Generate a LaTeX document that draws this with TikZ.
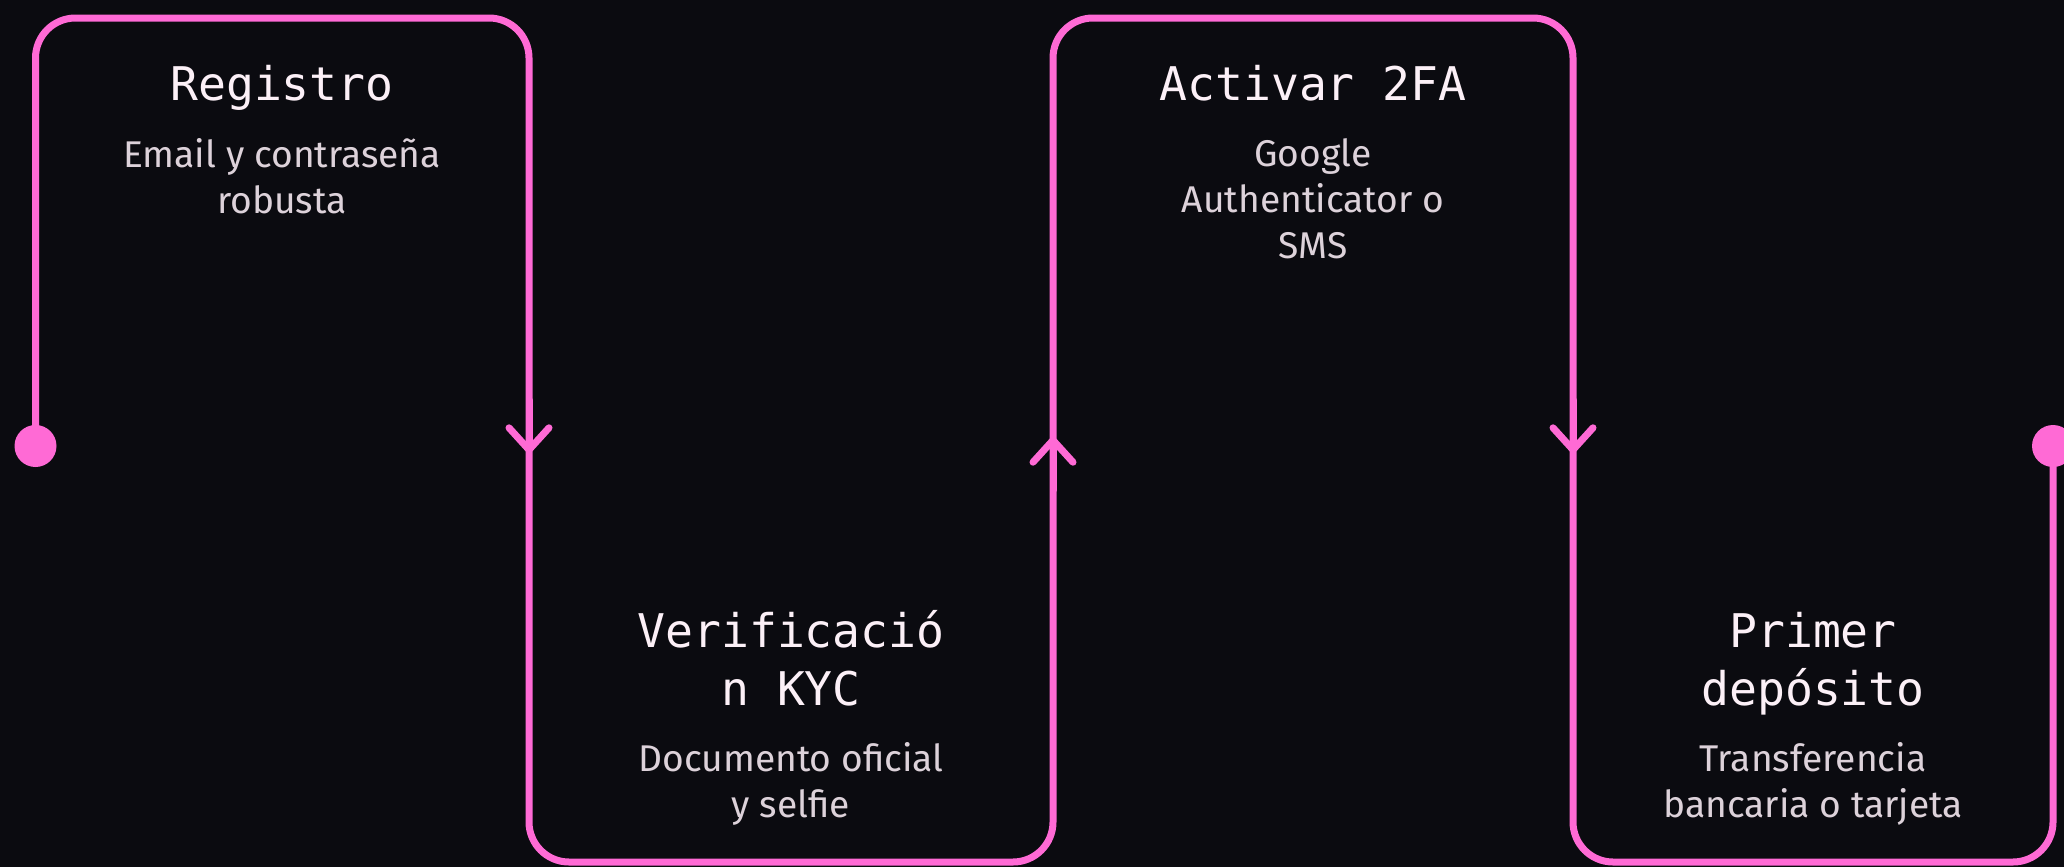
\documentclass[tikz,border=0pt]{standalone}
\usepackage{fontspec}
\setmainfont{Fira Sans}
\newfontfamily\monofont{DejaVu Sans Mono}
\usetikzlibrary{arrows.meta}
\definecolor{bg1}{RGB}{11, 11, 16}
\definecolor{pink1}{RGB}{255, 106, 213}
\definecolor{title1}{RGB}{252, 240, 247}
\definecolor{text1}{RGB}{221, 210, 218}

\begin{document}
\begin{tikzpicture}[x=0.5pt, y=-0.5pt, line width=3.5pt,
  flow/.style={draw=pink1, line cap=round, line join=round, rounded corners=20pt},
  chev/.style={pink1, line cap=round, -{Straight Barb[length=11pt, width=20pt, line cap=round]}},
  dot/.style={circle, fill=pink1, inner sep=0pt, minimum size=21pt},
  ttl/.style={anchor=base, align=center, text=title1, inner sep=0pt,
    font=\monofont\fontsize{23.2}{29}\selectfont},
  desc/.style={anchor=base, align=center, text=text1, inner sep=0pt,
    font=\fontsize{18.6}{23}\selectfont}]
  \fill[bg1] (0,0) rectangle (2064,867);
  \useasboundingbox (0,0) rectangle (2064,867);
  % ends of the line
  \node[dot] (start) at (35.5,446) {};
  \node[dot] (stop) at (2053,446) {};
  \coordinate (t0) at (35.5,18);
  \coordinate (t1) at (529,18);
  \coordinate (b1) at (529,862);
  \coordinate (b2) at (1053,862);
  \coordinate (t2) at (1053,18);
  \coordinate (t3) at (1573,18);
  \coordinate (b3) at (1573,862);
  \coordinate (b4) at (2053,862);
  \draw[flow] (start.center) -- (t0) -- (t1) -- (b1) -- (b2) -- (t2) -- (t3) -- (b3) -- (b4) -- (stop.center);
  \foreach \x/\from/\to in {529/400/455, 1053/490/435, 1573/400/455}
    \draw[chev] (\x,\from) -- (\x,\to);
  % steps (base = last line)
  \node[ttl] (reg) at (282,100) {Registro};
  \node[desc] (regtxt) at (282,213) {Email y contraseña\\robusta};
  \node[ttl] (kyc) at (791,705) {Verificació\\n KYC};
  \node[desc] (kyctxt) at (791,817) {Documento oficial\\y selfie};
  \node[ttl] (tfa) at (1313,100) {Activar 2FA};
  \node[desc] (tfatxt) at (1313,258) {Google\\Authenticator o\\SMS};
  \node[ttl] (dep) at (1813,705) {Primer\\depósito};
  \node[desc] (deptxt) at (1813,817) {Transferencia\\bancaria o tarjeta};
\end{tikzpicture}
\end{document}
